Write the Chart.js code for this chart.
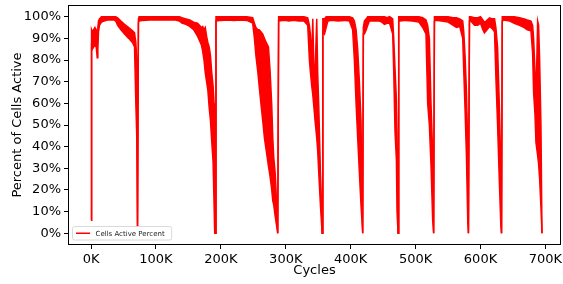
<!DOCTYPE html>
<html>
<head>
<meta charset="utf-8">
<script src="https://cdn.jsdelivr.net/npm/chart.js@4.4.1/dist/chart.umd.min.js"></script>
<style>
html, body { margin: 0; padding: 0; background: #fff; }
</style>
</head>
<body>
<canvas id="canvas" width="563" height="284"></canvas>
<script>
// cycles in thousands, upper / lower edge of the red trace (percent)
var cyclesK = [
  0, 0.8, 2, 4, 6, 8, 9.5, 10.5, 11.5, 13, 16, 20, 25, 30, 35, 38, 41, 46, 51.6, 58, 64, 67, 69, 70.5, 71.6, 73,
  74, 80, 90, 100, 110, 120, 130, 136, 140, 146, 152, 158, 164, 167, 170, 172, 174, 176, 178, 180, 182, 184, 186, 188, 189.5, 190.5, 191, 192.5,
  200, 210, 220, 230, 240, 249, 251.7, 254, 256.9, 259, 262, 264.5, 267.1, 270, 273.3, 275.9, 278.4, 280, 281.5, 283.6, 286.1, 287.6, 289,
  298, 305, 312, 320, 328, 333.8, 336.4, 337.9, 340, 341.6, 343.1, 345.1, 347.7, 349.2, 350.8, 353.4, 354.4, 356, 357.1, 359.6, 362.2, 364.8,
  372, 380, 390, 398, 403, 405.7, 408.3, 410.8, 413.4, 415.9, 418.5, 419.5, 421.1, 424, 426.2, 428.8, 436, 444, 448, 452, 456, 460, 464.7, 466.3, 468.3, 470.4, 471.4, 473, 474,
  476, 485, 495, 505, 511, 516, 518.6, 521.2, 523.7, 526.3, 527.8, 529,
  531, 540, 550, 558, 563, 568, 572.6, 574.2, 576.2, 578.3, 580.4, 581.4, 583,
  585, 590.8, 595.9, 600, 603.6, 606, 608.8, 613.9, 618, 621.6, 623.7, 626.3, 628.9, 631.4, 632.4, 633.5,
  636, 645, 652, 660, 667.4, 672, 677.7, 680.3, 681.8, 683.9, 685.4, 688, 689.5, 691.1, 693.1, 694.7
];
var upperPct = [
  6, 94, 93, 94, 95, 94, 92, 95, 98, 99, 100, 100, 100, 100, 100, 100, 99.5, 98, 96.5, 95, 93.5, 92.5, 88, 80, 3, 99,
  100, 100, 100, 100, 100, 100, 100, 100, 99.5, 99, 98.5, 97.5, 97, 96, 95, 95.5, 94, 95, 91, 88, 86, 82, 74, 68, 60, 35, 0, 100,
  100, 100, 100, 100, 100, 99.5, 97, 95, 94, 94, 93, 92, 90, 88, 86, 74.6, 59, 44, 35, 28, 13, 0, 100,
  100, 100, 100, 100, 100, 99.5, 96, 92, 80, 99, 78, 74, 99, 74, 59, 28, 20, 0, 99, 99, 100, 100,
  100, 100, 100, 100, 99.5, 98, 94, 85, 70, 52, 0, 95, 98, 99, 100, 100, 100, 100, 100, 100, 99.5, 100, 99, 90, 76, 62, 47, 0, 100,
  100, 100, 100, 100, 99.5, 98.5, 96, 90, 60, 37, 0, 100,
  100, 100, 100, 99.5, 99.5, 99, 98, 93, 82, 66, 40, 0, 100,
  100, 99.5, 99.5, 100, 98.5, 97.5, 98, 99.5, 99, 99, 95, 86, 60, 30, 0, 100,
  100, 100, 100, 99.5, 99, 98.5, 98, 96, 90, 75, 60, 98, 96, 80, 50, 0
];
var lowerPct = [
  6, 86, 85, 86, 87, 86, 81, 85, 93, 96, 97.5, 98, 98.5, 98.5, 98.5, 98, 96, 94, 92, 90, 88, 86, 60, 44, 3, 97.5,
  98, 98.3, 98.5, 98.5, 98.5, 98.5, 98.5, 98, 97, 96.5, 95.5, 94, 91, 89, 87, 84, 80, 74, 70, 66, 58, 52, 42, 33, 14, 0, 0, 98,
  98.3, 98.5, 98.3, 98.5, 98.3, 97, 90, 82, 74.6, 68, 59, 52, 44, 38, 31, 26, 20, 15, 13, 8, 3, 0, 98,
  98.3, 98, 98.3, 98, 98, 96, 80, 74.6, 68, 64, 59, 52, 44, 38, 28, 13, 8, 0, 93, 92, 95, 98,
  98.3, 98, 98.3, 98, 94, 80, 60, 44, 28, 13, 0, 92, 92, 94, 96, 98, 98, 98, 97.5, 96.5, 97, 97, 92, 75, 47, 34, 10, 0, 98,
  98, 98.3, 98, 97.5, 95, 92, 60, 50, 32, 6, 0, 98,
  98.3, 98, 97.5, 96, 95, 95.5, 90, 75, 57, 36, 5, 0, 98,
  98, 96, 96, 97, 94, 92.5, 93.5, 95.5, 94.5, 93, 72, 50, 25, 3, 0, 98,
  98.5, 98, 97, 96, 95, 94, 93.5, 83, 65, 55, 42, 36, 32, 25, 12, 0
];
var xTicksK = [0, 100, 200, 300, 400, 500, 600, 700];
var yTicksPct = [0, 10, 20, 30, 40, 50, 60, 70, 80, 90, 100];
var seriesLabel = 'Cells Active Percent';

var upperPts = cyclesK.map(function(c, i){ return {x: c, y: upperPct[i]}; });
var lowerPts = cyclesK.map(function(c, i){ return {x: c, y: lowerPct[i]}; });

Chart.defaults.font.family = 'DejaVu Sans';
Chart.defaults.font.size = 13;
Chart.defaults.color = '#000';

// matplotlib style frame + legend in the lower left corner
var framePlugin = {
  id: 'frame',
  afterDraw: function(chart){
    var a = chart.chartArea;
    var ctx = chart.ctx;
    ctx.save();
    ctx.strokeStyle = '#000';
    ctx.lineWidth = 1;
    ctx.strokeRect(a.left + 0.5, a.top + 0.5, a.right - a.left - 1, a.bottom - a.top - 1);

    ctx.font = '7px "DejaVu Sans"';
    var tw = ctx.measureText(seriesLabel).width;
    var bx = a.left + 4.5, by = a.bottom - 18.5;
    var bw = tw + 30, bh = 13.5;
    ctx.fillStyle = 'rgba(255,255,255,0.8)';
    ctx.strokeStyle = '#d0d0d0';
    ctx.lineWidth = 0.8;
    ctx.beginPath();
    if (ctx.roundRect) ctx.roundRect(bx, by, bw, bh, 2); else ctx.rect(bx, by, bw, bh);
    ctx.fill();
    ctx.stroke();
    ctx.strokeStyle = 'red';
    ctx.lineWidth = 1.5;
    ctx.beginPath();
    ctx.moveTo(bx + 3.5, by + bh / 2);
    ctx.lineTo(bx + 17.5, by + bh / 2);
    ctx.stroke();
    ctx.fillStyle = '#222';
    ctx.textBaseline = 'middle';
    ctx.fillText(seriesLabel, bx + 23, by + bh / 2 + 0.5);
    ctx.restore();
  }
};

var ctx = document.getElementById('canvas').getContext('2d');
var myChart = new Chart(ctx, {
  type: 'line',
  data: {
    datasets: [{
      label: seriesLabel,
      data: upperPts,
      borderColor: 'red',
      borderWidth: 1.5,
      pointRadius: 0,
      tension: 0,
      fill: false
    }, {
      label: seriesLabel + ' (low)',
      data: lowerPts,
      borderColor: 'red',
      backgroundColor: 'red',
      borderWidth: 1.5,
      pointRadius: 0,
      tension: 0,
      fill: '-1'
    }]
  },
  options: {
    responsive: false,
    animation: false,
    layout: { padding: { top: 5, right: 2, left: 0, bottom: 0 } },
    plugins: {
      legend: { display: false },
      tooltip: { enabled: false }
    },
    scales: {
      x: {
        type: 'linear',
        min: -35.5,
        max: 724,
        afterBuildTicks: function(scale){
          scale.ticks = xTicksK.map(function(v){ return {value: v}; });
        },
        afterFit: function(scale){
          scale.height = 39;
          scale.paddingLeft = 0;
          scale.paddingRight = 0;
        },
        ticks: {
          padding: 3,
          maxRotation: 0,
          callback: function(v){ return v + 'K'; }
        },
        grid: { drawOnChartArea: false, drawTicks: true, tickLength: 4, color: '#000' },
        border: { display: false },
        title: { display: true, text: 'Cycles', padding: { top: 0, bottom: 6 } }
      },
      y: {
        min: -5.4,
        max: 105.4,
        afterBuildTicks: function(scale){
          scale.ticks = yTicksPct.map(function(v){ return {value: v}; });
        },
        afterFit: function(scale){
          scale.width = 68;
          scale.paddingTop = 0;
          scale.paddingBottom = 0;
        },
        ticks: {
          padding: 3,
          callback: function(v){ return v + '%'; }
        },
        grid: { drawOnChartArea: false, drawTicks: true, tickLength: 4, color: '#000' },
        border: { display: false },
        title: { display: true, text: 'Percent of Cells Active', padding: { top: 10, bottom: 0 } }
      }
    }
  },
  plugins: [framePlugin]
});
</script>
</body>
</html>
